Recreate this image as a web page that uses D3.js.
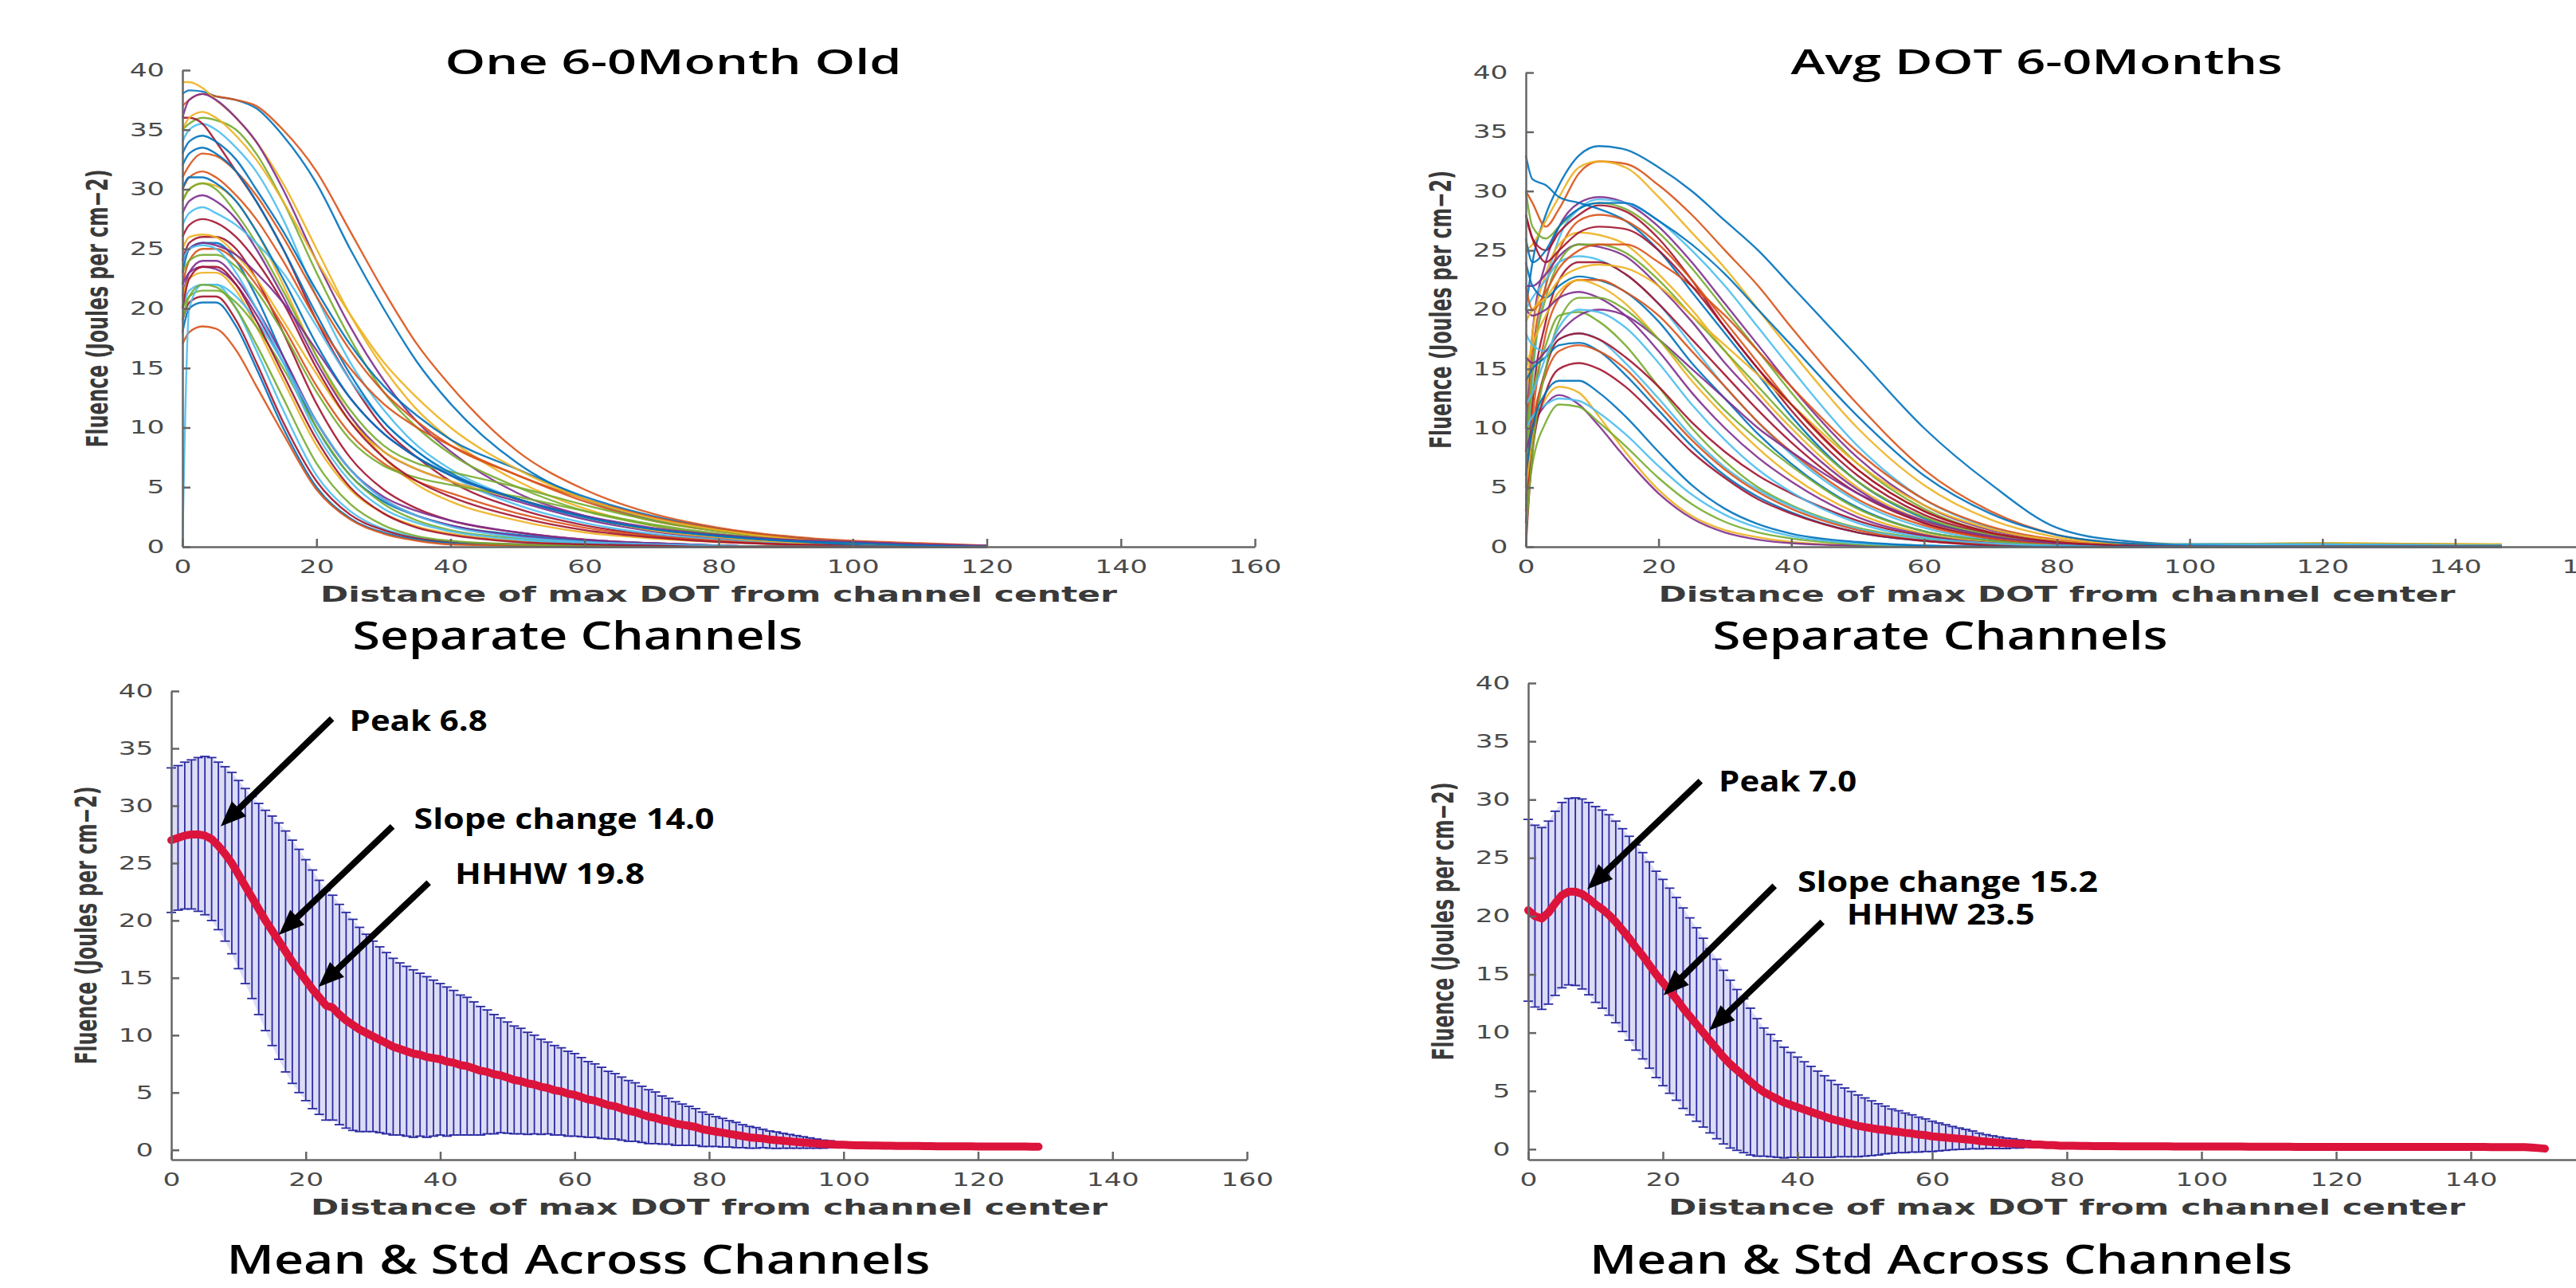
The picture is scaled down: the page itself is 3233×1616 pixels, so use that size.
<!DOCTYPE html>
<html>
<head>
<meta charset="utf-8">
<script src="https://cdn.jsdelivr.net/npm/d3@7"></script>
<style>
body{margin:0;background:#fff;}
svg{display:block;}
</style>
</head>
<body>
<svg id="chart" width="3233" height="1616"></svg>
<script>
// ---- data ----
var colorOrder = ['#0072BD','#D95319','#EDB120','#7E2F8E','#77AC30','#4DBEEE','#A2142F'];
var xTicks = [0,20,40,60,80,100,120,140,160];
var yTicks = [0,5,10,15,20,25,30,35,40];

// "One 6-0Month Old" - separate channels, sampled at these distances
var gridOne = [0,1,3,5,8,11,15,20,25,30,35,40,50,60,70,80,90,100,110,120];
var curvesOne = [
 [38,38.3,38.2,37.8,37.5,36.8,34.5,30.5,25,20,15.5,12,7,4,2.3,1.4,0.8,0.4,0.2,0.1],
 [37,37.5,38,37.8,37.5,37,35,31.5,26.5,21.5,17,13.5,8,4.8,2.8,1.6,0.9,0.5,0.3,0.1],
 [39,39,38.5,37.5,36,34,30.5,25,19.5,15,11.5,9,5.5,3.2,1.8,1.0,0.6,0.3,0.1,0],
 [36,37.5,38,37.5,36,34,30,24,18.5,14,10.5,8,4.5,2.6,1.5,0.9,0.5,0.3,0.1,0],
 [35,35.5,36,35.8,35,33,29,23,17.5,13,10,7.8,5,3,1.8,1.0,0.5,0.3,0.1,0],
 [34,35,35.5,35,33.5,31.5,27.5,21,15.5,11.5,8.5,6.5,4,2.4,1.4,0.8,0.4,0.2,0,0],
 [36,36,35.5,34,31.5,29,25,19,14,10,7.5,5.5,3.2,1.8,1,0.6,0.3,0.1,0,0],
 [33,34,34.5,34,32.5,30,26.5,21.5,17,13.5,11,9,6.5,4.2,2.6,1.5,0.8,0.4,0.2,0],
 [31,32,33,32.8,31.5,29.5,26,21,16.5,13,10.5,8.5,6,3.8,2.2,1.3,0.7,0.3,0.1,0],
 [29,30,30.5,30.3,29,26.5,22,16,11,7.5,5.2,3.8,2.2,1.2,0.7,0.4,0.2,0.1,0,0],
 [28,29,29.5,29,27.5,25,21,15.5,11,8,6.5,5.5,3.8,2.3,1.3,0.7,0.4,0.2,0,0],
 [29,30,30.5,30,28,25.5,21.5,16,11.5,8.5,7,6.3,5,3.5,2.2,1.3,0.7,0.3,0.1,0],
 [27,28,28.5,28,27,25.5,23,18.5,14,10.5,8,6,3.5,2,1.1,0.6,0.3,0.1,0,0],
 [24,25.5,26,26,25,22.5,18,12,7.5,4.8,3.2,2.2,1.2,0.6,0.3,0.1,0,0,0,0],
 [23,25,25.5,25.5,24,21,16,10,6,3.8,2.6,1.8,1,0.5,0.3,0.1,0,0,0,0],
 [22,24,25,25,24,22,18.5,13.5,9.5,7,5.5,4.5,2.8,1.6,0.9,0.5,0.2,0.1,0,0],
 [25,26,26.2,26,24.5,22.5,19,14.5,10.5,8,6.5,5.5,4,2.5,1.4,0.8,0.4,0.2,0,0],
 [21,23,24,24,22.5,20,16,10.5,6.5,4.2,3,2.2,1.2,0.6,0.3,0.1,0,0,0,0],
 [23,24,24.5,24.5,23.5,21.5,18,13,9,6.8,5.8,5.2,4.2,3,1.9,1.1,0.6,0.3,0.1,0],
 [20,21.5,22,22,20,16.5,11.5,6,3,1.5,0.8,0.4,0.2,0.1,0,0,0,0,0,0],
 [19,20.5,21,21,19,15.5,10.5,5.5,2.7,1.4,0.7,0.4,0.2,0,0,0,0,0,0,0],
 [18,20,20.5,20.5,18.5,15,10,5,2.4,1.2,0.6,0.3,0.1,0,0,0,0,0,0,0],
 [17,18,18.5,18.3,16.5,13.5,9.5,4.8,2.3,1.1,0.5,0.2,0.1,0,0,0,0,0,0,0],
 [21,22.5,23,23,21.5,18.5,14,8.5,4.8,2.8,1.7,1.1,0.5,0.2,0.1,0,0,0,0,0],
 [22,23,23.5,23.3,22,19.5,15.5,10.5,6.5,4,2.6,1.8,0.9,0.4,0.2,0.1,0,0,0,0],
 [20,21,21.5,21.5,20.5,18.5,15,10,6,3.6,2.2,1.4,0.7,0.3,0.1,0,0,0,0,0],
 [0,20,22,22,21,19,15.5,10.5,6.5,4,2.6,1.7,0.8,0.4,0.2,0.1,0,0,0,0],
 [26,27,27.5,27.2,26,24,20.5,15,10.5,7.5,5.5,4.2,2.5,1.4,0.8,0.4,0.2,0.1,0,0],
 [32,33,33.5,33,31.5,29,25,19.5,14.5,10.5,8,6.2,4,2.5,1.5,0.9,0.5,0.2,0.1,0],
 [30,31,31.5,31,29.5,27.5,24,19,15,12,10,8.5,6,4,2.5,1.5,0.8,0.4,0.2,0],
 [35,36,36.5,36,34.5,32.5,29,24,19.5,15.5,12.5,10,6.5,4,2.4,1.4,0.7,0.3,0.1,0],
 [24,25,25.5,25.3,24.5,23,20.5,16.5,12.5,9.5,7.5,6,4,2.6,1.6,1,0.6,0.4,0.2,0.1],
 [19,21,22,21.8,20,17,12.5,7,3.6,1.8,0.9,0.5,0.2,0.1,0,0,0,0,0,0],
 [24,25,25.3,25,23,20,15.5,9.5,5.5,3.2,2,1.3,0.6,0.3,0.1,0,0,0,0,0],
 [20,22.5,23.5,23.5,22,19,14.5,9,5,2.8,1.6,1,0.4,0.2,0.1,0,0,0,0,0],
 [30,31,31,30.5,29,26.5,22.5,17,12.5,9.5,7.5,6,4,2.5,1.5,0.9,0.5,0.3,0.1,0]
];

// "Avg DOT 6-0Months" - separate channels
var gridAvg = [0,1,3,5,8,11,15,20,25,30,35,40,50,60,70,80,90,100,120,147];
var curvesAvg = [
 [20,24,28,30.5,33,33.8,33.5,32,30,27.5,25,22,16,10,5.3,1.6,0.5,0.2,0.2,0.1],
 [30,29,27,28.5,31.5,32.5,32.3,30.5,28,25,22,18.5,12,6.5,3,1,0.3,0.1,0.1,0],
 [25,25.5,27.5,29.5,32,32.5,32,29.5,26.5,23.5,20,16.5,10,5.2,2.3,0.8,0.2,0.1,0,0],
 [10,18,24,27,29,29.5,29,27,24,20.5,17,13.5,7.5,3.5,1.4,0.5,0.1,0,0,0],
 [30,27,26,27,28.5,29,28.5,26.5,23.5,20,16.5,13,7,3.2,1.2,0.4,0.2,0.2,0.3,0.2],
 [5,14,22,26,28.5,29.3,29,27.5,25,22,18.5,15,8.5,4,1.6,0.5,0.1,0,0,0],
 [28,26,25,26.5,28,28.8,28.3,26,22.5,18.5,15,11.5,6,2.7,1.1,0.3,0.1,0,0,0],
 [33,31,30.5,29.5,29,28.5,27.5,25,21.5,18,14.5,11,5.5,2.4,0.9,0.3,0.1,0,0,0],
 [8,16,22,25,27.5,28,27.5,25.5,22.5,19,15.5,12,6.5,3,1.2,0.4,0.1,0,0,0],
 [12,18,23,25.5,26.5,26.3,25.5,23,20,16.5,13,10,5,2.2,0.8,0.3,0.2,0.2,0.3,0.2],
 [22,22,23,24.5,25.5,25.3,24.5,22,19,15.5,12.5,9.5,4.8,2,0.8,0.2,0,0,0,0],
 [6,15,21,24,25.5,25.5,24.8,22.5,19.5,16.5,13.5,10.5,5.5,2.5,1,0.3,0.1,0,0,0],
 [20,21,22.5,24,24.5,24.2,23,20.5,17,13.5,10.5,7.8,3.8,1.6,0.6,0.2,0,0,0,0],
 [3,12,19,22.5,24,24,23,20.5,17.5,14.5,11.5,8.8,4.5,2,0.7,0.2,0,0,0,0],
 [24,22,21,22,22.8,22.5,21.5,19,15.5,12.5,9.5,7,3.3,1.3,0.5,0.1,0.1,0.2,0.2,0.1],
 [5,11,18,21,22.5,22.5,21.5,19.5,16.5,13.5,10.5,8,4,1.8,0.7,0.2,0,0,0,0],
 [15,17,19.5,21.5,22.5,22,20.5,17.5,14,11,8.3,6,2.8,1.1,0.4,0.1,0,0,0,0],
 [20,19.5,20,21,21.5,21,19.5,16.5,13,10,7.5,5.5,2.5,1,0.3,0.1,0,0,0,0],
 [10,13,17,19.5,19.8,19,17,13.5,10,7.2,5,3.5,1.6,0.7,0.2,0.1,0,0,0,0],
 [18,17,16.5,17.5,18,17.5,15.5,12.5,9.3,6.7,4.8,3.4,1.5,0.6,0.2,0.1,0.1,0.2,0.2,0.1],
 [2,9,15,17.5,18,17.5,16,13.5,10.5,8,6,4.5,2.2,0.9,0.3,0.1,0,0,0,0],
 [14,15,16,17,17.2,16.5,14.5,11.5,8.5,6,4.2,2.9,1.2,0.5,0.2,0,0,0,0,0],
 [4,10,14.5,16.5,17,16.5,15,12,9,6.5,4.6,3.2,1.4,0.5,0.2,0,0,0,0,0],
 [5,9,12.5,13.5,13,11,8,4.8,2.6,1.4,0.8,0.4,0.1,0,0,0,0,0,0,0],
 [8,10,12,12.8,12,10.2,7.5,4.5,2.4,1.2,0.6,0.3,0.1,0,0,0,0,0,0,0],
 [3,7,10.5,12,11.8,10.5,8.5,5.8,3.6,2.1,1.2,0.7,0.2,0,0,0,0,0,0,0],
 [10,11,12,12.5,12.3,11.3,9.5,6.8,4.4,2.7,1.6,0.9,0.3,0.1,0,0,0,0,0,0],
 [0,8,13,15,15.5,15,13.5,10.8,8,5.8,4,2.8,1.2,0.5,0.1,0,0,0,0,0],
 [26,24,25,27,28.5,29,29,27.5,25.5,23,20,17,11,6,2.8,1,0.3,0.1,0,0],
 [22,20,21.5,23.5,25,25.5,25.5,24,22,19.5,16.5,13.5,8,4,1.7,0.6,0.1,0,0,0],
 [19,20,21,22.5,23.5,23.8,23.5,22,19.5,17,14.5,12,7,3.5,1.5,0.5,0.1,0,0,0],
 [16,15.5,16.5,18,19.5,20,19.5,17.5,15,12.5,10,8,4.5,2.2,0.9,0.3,0.1,0,0,0],
 [1,8,15,19,21,21,20,17.5,14.5,11.5,9,6.8,3.2,1.3,0.5,0.1,0,0,0,0],
 [12,13,16,18.5,20,19.8,18.5,15.5,12,9,6.5,4.6,2,0.8,0.3,0.1,0,0,0,0],
 [28,26,24,25,26.5,27,26.8,25,22,18.5,15,12,6.5,3,1.2,0.4,0.1,0,0,0],
 [6,10,13,14,14,13,11,8,5.2,3.2,1.9,1.1,0.4,0.1,0,0,0,0,0,0]
];

// mean across channels, one value per unit of distance (0,1,2,...)
var meanOne = [
 27.0,27.2,27.4,27.5,27.5,27.4,27.1,26.5,25.8,25.0,
 24.0,23.0,22.0,21.0,20.0,19.1,18.2,17.3,16.4,15.6,
 14.8,14.0,13.3,12.6,12.4,11.8,11.3,10.9,10.5,10.2,
 9.9,9.6,9.3,9.0,8.8,8.6,8.4,8.3,8.1,8.0,
 7.9,7.7,7.6,7.4,7.3,7.1,6.9,6.8,6.6,6.5,
 6.3,6.1,6.0,5.8,5.7,5.5,5.4,5.2,5.1,4.9,
 4.8,4.6,4.4,4.3,4.1,3.9,3.8,3.6,3.4,3.3,
 3.1,2.9,2.8,2.6,2.5,2.3,2.2,2.1,2.0,1.8,
 1.7,1.6,1.5,1.4,1.3,1.2,1.1,1.05,1.0,0.9,
 0.85,0.8,0.75,0.7,0.65,0.6,0.55,0.5,0.5,0.45,
 0.45,0.42,0.4,0.4,0.38,0.38,0.36,0.36,0.35,0.35,
 0.34,0.34,0.33,0.33,0.32,0.32,0.32,0.31,0.31,0.31,
 0.3,0.3,0.3,0.3,0.3,0.29,0.29,0.29,0.28,0.28
];
var sdOne = [
 6.3,6.3,6.4,6.5,6.7,6.9,7.1,7.3,7.6,7.9,
 8.2,8.5,8.8,9.2,9.6,10.0,10.3,10.5,10.6,10.6,
 10.5,10.4,10.2,10.0,9.8,9.6,9.4,9.2,8.9,8.6,
 8.3,8.1,7.9,7.7,7.5,7.4,7.3,7.1,7.0,6.8,
 6.6,6.5,6.3,6.1,6.0,5.8,5.6,5.4,5.2,5.0,
 4.85,4.7,4.6,4.45,4.3,4.15,4.0,3.9,3.8,3.7,
 3.6,3.45,3.3,3.2,3.1,2.95,2.85,2.75,2.65,2.55,
 2.45,2.35,2.25,2.1,2.0,1.9,1.8,1.7,1.6,1.5,
 1.4,1.3,1.25,1.15,1.1,1.0,0.95,0.9,0.8,0.75,
 0.72,0.65,0.6,0.55,0.5,0.45,0.4,0.35,0.3,0.25,
 0.2
];
var meanAvg = [
 20.5,20.0,19.8,20.3,21.1,21.8,22.1,22.1,21.9,21.5,
 21.0,20.6,20.1,19.5,18.8,18.1,17.3,16.6,15.8,15.0,
 14.3,13.6,12.9,12.1,11.4,10.7,10.0,9.3,8.6,7.9,
 7.3,6.8,6.3,5.8,5.3,4.9,4.6,4.3,4.0,3.8,
 3.6,3.4,3.2,3.0,2.8,2.6,2.45,2.3,2.15,2.0,
 1.9,1.8,1.7,1.65,1.55,1.5,1.4,1.35,1.25,1.2,
 1.1,1.05,1.0,0.95,0.9,0.85,0.8,0.7,0.65,0.6,
 0.55,0.5,0.5,0.45,0.45,0.4,0.4,0.35,0.35,0.3,
 0.3,0.3,0.28,0.28,0.27,0.27,0.26,0.26,0.25,0.25,
 0.25,0.25,0.24,0.24,0.24,0.24,0.23,0.23,0.23,0.23,
 0.23,0.22,0.22,0.22,0.22,0.22,0.22,0.21,0.21,0.21,
 0.21,0.21,0.21,0.21,0.2,0.2,0.2,0.2,0.2,0.2,
 0.2,0.2,0.2,0.2,0.2,0.2,0.2,0.2,0.2,0.2,
 0.2,0.2,0.2,0.2,0.19,0.19,0.19,0.19,0.19,0.19,
 0.19,0.19,0.19,0.18,0.18,0.18,0.18,0.18,0.17,0.15,
 0.1,0.05
];
var sdAvg = [
 7.8,7.8,7.8,7.85,7.9,7.95,8.0,8.05,8.15,8.25,
 8.4,8.5,8.6,8.65,8.7,8.75,8.8,8.85,8.85,8.85,
 8.85,8.8,8.7,8.6,8.45,8.3,8.1,7.9,7.7,7.45,
 7.2,6.9,6.6,6.3,5.9,5.5,5.25,5.0,4.75,4.5,
 4.3,4.1,3.9,3.7,3.5,3.3,3.1,2.95,2.8,2.65,
 2.5,2.35,2.2,2.05,1.9,1.8,1.7,1.6,1.5,1.4,
 1.3,1.2,1.1,1.0,0.92,0.85,0.76,0.68,0.6,0.55,
 0.5,0.45,0.4,0.35,0.3,0.25,0.22,0.2,0.17,0.14,
 0.12,0.1,0.08,0.06,0.05,0.04
];

var xLabel = 'Distance of max DOT from channel center';
var yLabel = 'Fluence (Joules per cm\u22122)';

// ---- layout ----
var W = 3233, H = 1616;
var svg = d3.select('#chart');
svg.append('rect').attr('width', W).attr('height', H).attr('fill', '#fff');

var panels = {
  one:     {left:229,  right:1575, bottom:686,  top:88,  yMin:0},
  avg:     {left:1915, right:3248, bottom:686,  top:91,  yMin:0},
  oneMean: {left:215,  right:1565, bottom:1455, top:867, yMin:-0.85},
  avgMean: {left:1918, right:3270, bottom:1455, top:857, yMin:-0.9}
};

function scalesFor(p){
  return {
    x: d3.scaleLinear().domain([0,160]).range([p.left, p.right]),
    y: d3.scaleLinear().domain([p.yMin,40]).range([p.bottom, p.top])
  };
}

function drawAxes(p, s){
  // labels whose tick falls off the page are not drawn
  var shownX = xTicks.filter(function(v){ return s.x(v) < W + 20; });
  var xa = svg.append('g').attr('transform','translate(0,'+p.bottom+')')
    .call(d3.axisBottom(s.x).tickValues(shownX).tickSize(-10).tickSizeOuter(0).tickPadding(17));
  var ya = svg.append('g').attr('transform','translate('+p.left+',0)')
    .call(d3.axisLeft(s.y).tickValues(yTicks).tickSize(-10).tickSizeOuter(0).tickPadding(15));
  [xa, ya].forEach(function(a){
    a.select('.domain').attr('stroke','#666').attr('stroke-width',2.5);
    a.selectAll('.tick line').attr('stroke','#666').attr('stroke-width',2.5);
    a.selectAll('.tick text')
      .attr('fill','#4a4a4a')
      .attr('font-size',23)
      .attr('font-family','"DejaVu Sans", sans-serif')
      .attr('transform','scale(1.5,1)');
  });

  svg.append('text')
    .attr('x', (p.left + p.right)/2).attr('y', p.bottom + 69)
    .attr('text-anchor','middle')
    .attr('font-family','"DejaVu Sans", sans-serif').attr('font-weight','bold')
    .attr('font-size',27).attr('fill','#3a3a3a')
    .attr('textLength',1000).attr('lengthAdjust','spacingAndGlyphs')
    .text(xLabel);

  svg.append('text')
    .attr('transform','translate('+(p.left-94)+','+((p.top+p.bottom)/2)+') rotate(-90)')
    .attr('text-anchor','middle')
    .attr('font-family','"DejaVu Sans", sans-serif').attr('font-weight','bold')
    .attr('font-size',38).attr('fill','#3a3a3a')
    .attr('textLength',349).attr('lengthAdjust','spacingAndGlyphs')
    .text(yLabel);
}

function drawChannels(p, grid, curves){
  var s = scalesFor(p);
  var line = d3.line()
    .x(function(d,i){ return s.x(grid[i]); })
    .y(function(d){ return s.y(d); })
    .curve(d3.curveMonotoneX);
  svg.append('g').selectAll('path').data(curves).enter().append('path')
    .attr('d', line)
    .attr('fill','none')
    .attr('stroke', function(d,i){ return colorOrder[i % colorOrder.length]; })
    .attr('stroke-width',2.4)
    .attr('stroke-opacity',0.9);
  drawAxes(p, s);
}

function drawMeanStd(p, mean, sd, notes){
  var s = scalesFor(p);
  var bars = sd.map(function(v,i){ return {x:i, lo:mean[i]-v, hi:mean[i]+v}; });

  svg.append('path').datum(bars)
    .attr('d', d3.area().x(function(d){ return s.x(d.x); })
      .y0(function(d){ return s.y(d.lo); }).y1(function(d){ return s.y(d.hi); }))
    .attr('fill','#dcdcf5');

  var g = svg.append('g').attr('stroke','#2a2aa2').attr('stroke-width',1.8);
  g.selectAll('line.v').data(bars).enter().append('line').attr('class','v')
    .attr('x1', function(d){ return s.x(d.x); }).attr('x2', function(d){ return s.x(d.x); })
    .attr('y1', function(d){ return s.y(d.lo); }).attr('y2', function(d){ return s.y(d.hi); });
  g.selectAll('line.t').data(bars).enter().append('line').attr('class','t')
    .attr('x1', function(d){ return s.x(d.x)-6; }).attr('x2', function(d){ return s.x(d.x)+6; })
    .attr('y1', function(d){ return s.y(d.hi); }).attr('y2', function(d){ return s.y(d.hi); });
  g.selectAll('line.b').data(bars).enter().append('line').attr('class','b')
    .attr('x1', function(d){ return s.x(d.x)-6; }).attr('x2', function(d){ return s.x(d.x)+6; })
    .attr('y1', function(d){ return s.y(d.lo); }).attr('y2', function(d){ return s.y(d.lo); });

  svg.append('path').datum(mean)
    .attr('d', d3.line().x(function(d,i){ return s.x(i); }).y(function(d){ return s.y(d); }))
    .attr('fill','none').attr('stroke','#dc143c').attr('stroke-width',10)
    .attr('stroke-linecap','round').attr('stroke-linejoin','round');

  drawAxes(p, s);

  notes.forEach(function(n){
    var tx = s.x(n.tip[0]), ty = s.y(n.tip[1]);
    var sx = s.x(n.tail[0]), sy = s.y(n.tail[1]);
    var len = Math.hypot(tx-sx, ty-sy), ux = (tx-sx)/len, uy = (ty-sy)/len;
    var bx = tx - ux*32, by = ty - uy*32;
    svg.append('line').attr('x1',sx).attr('y1',sy).attr('x2',bx+ux*4).attr('y2',by+uy*4)
      .attr('stroke','#000').attr('stroke-width',8);
    svg.append('polygon')
      .attr('points', [[tx,ty],[bx-uy*13,by+ux*13],[bx+uy*13,by-ux*13]].join(' '))
      .attr('fill','#000');
    svg.append('text').attr('x', s.x(n.at[0])).attr('y', s.y(n.at[1]))
      .attr('font-family','"Open Sans", sans-serif').attr('font-weight',700)
      .attr('font-size',35).attr('fill','#000')
      .attr('textLength',n.w).attr('lengthAdjust','spacingAndGlyphs')
      .text(n.label);
  });
}

drawChannels(panels.one, gridOne, curvesOne);
drawChannels(panels.avg, gridAvg, curvesAvg);

drawMeanStd(panels.oneMean, meanOne, sdOne, [
  {label:'Peak 6.8',          tip:[7.35,28.2], tail:[23.9,37.6], at:[26.5,36.5], w:173},
  {label:'Slope change 14.0', tip:[16.0,18.75], tail:[32.9,28.2], at:[36.1,28.0], w:377},
  {label:'HHHW 19.8',         tip:[21.9,14.2], tail:[38.3,23.3], at:[42.2,23.2], w:238}
]);
drawMeanStd(panels.avgMean, meanAvg, sdAvg, [
  {label:'Peak 7.0',          tip:[8.76,22.3], tail:[25.6,31.6], at:[28.3,30.7], w:173},
  {label:'Slope change 15.2', tip:[20.1,13.2], tail:[36.6,22.6], at:[40.0,22.1], w:377},
  {label:'HHHW 23.5',         tip:[26.9,10.2], tail:[43.7,19.5], at:[47.3,19.3], w:236}
]);

// panel titles
var titles = [
  {t:'One 6-0Month Old',           cx:845,  base:93,   w:573, size:44},
  {t:'Avg DOT 6-0Months',          cx:2556, base:93,   w:617, size:44},
  {t:'Separate Channels',          cx:725,  base:815,  w:565, size:49},
  {t:'Separate Channels',          cx:2435, base:815,  w:571, size:49},
  {t:'Mean & Std Across Channels', cx:726,  base:1598, w:883, size:50},
  {t:'Mean & Std Across Channels', cx:2436, base:1598, w:882, size:50}
];
svg.append('g').selectAll('text').data(titles).enter().append('text')
  .attr('x', function(d){ return d.cx; }).attr('y', function(d){ return d.base; })
  .attr('text-anchor','middle')
  .attr('font-family','"Open Sans", sans-serif').attr('font-weight',600)
  .attr('font-size', function(d){ return d.size; })
  .attr('textLength', function(d){ return d.w; }).attr('lengthAdjust','spacingAndGlyphs')
  .attr('fill','#000')
  .text(function(d){ return d.t; });
</script>
</body>
</html>
